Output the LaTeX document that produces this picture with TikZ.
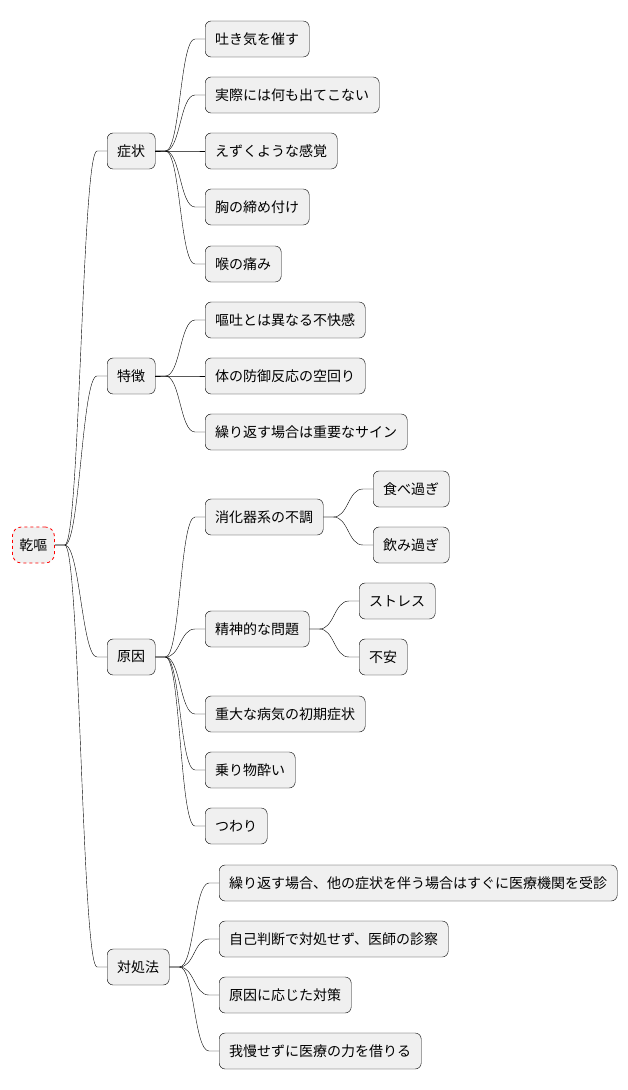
\documentclass[tikz,border=0pt]{standalone}
\usepackage{fontspec}
\setmainfont{Noto Sans CJK JP}
\begin{document}
\begin{tikzpicture}[
    x=1pt, y=-1pt,
    every node/.append style={font=\fontsize{14}{16}\selectfont},
    topic/.style={rectangle, draw=black, fill=black!6, rounded corners=6pt, minimum height=36pt, inner xsep=10pt, anchor=west},
    root/.style={topic, draw=red, dashed, thick, rounded corners=9pt, inner xsep=7pt},
    branch/.style={black, thin}
]
    \useasboundingbox (0,0) rectangle (628,1090);

    % Wurzel
    \node[root] (root) at (12,545) {乾嘔};

    % Erste Ebene
    \node[topic] (sym) at (107,151) {症状};
    \node[topic] (feat) at (107,376) {特徴};
    \node[topic] (cause) at (107,657) {原因};
    \node[topic] (cope) at (107,967) {対処法};

    % Zweite Ebene
    \node[topic] (s1) at (205,39) {吐き気を催す};
    \node[topic] (s2) at (205,95) {実際には何も出てこない};
    \node[topic] (s3) at (205,151) {えずくような感覚};
    \node[topic] (s4) at (205,207) {胸の締め付け};
    \node[topic] (s5) at (205,264) {喉の痛み};
    \node[topic] (f1) at (205,320) {嘔吐とは異なる不快感};
    \node[topic] (f2) at (205,376) {体の防御反応の空回り};
    \node[topic] (f3) at (205,432) {繰り返す場合は重要なサイン};
    \node[topic] (c1) at (205,517) {消化器系の不調};
    \node[topic] (c2) at (205,629) {精神的な問題};
    \node[topic] (c3) at (205,714) {重大な病気の初期症状};
    \node[topic] (c4) at (205,770) {乗り物酔い};
    \node[topic] (c5) at (205,826) {つわり};
    \node[topic] (k1) at (219,883) {繰り返す場合、他の症状を伴う場合はすぐに医療機関を受診};
    \node[topic] (k2) at (219,939) {自己判断で対処せず、医師の診察};
    \node[topic] (k3) at (219,995) {原因に応じた対策};
    \node[topic] (k4) at (219,1051) {我慢せずに医療の力を借りる};

    % Dritte Ebene
    \node[topic] (c11) at (373,489) {食べ過ぎ};
    \node[topic] (c12) at (373,545) {飲み過ぎ};
    \node[topic] (c21) at (359,601) {ストレス};
    \node[topic] (c22) at (359,657) {不安};

    % Verbindungen
    \foreach \p/\c in {root/sym, root/feat, root/cause, root/cope,
        sym/s1, sym/s2, sym/s3, sym/s4, sym/s5,
        feat/f1, feat/f2, feat/f3,
        cause/c1, cause/c2, cause/c3, cause/c4, cause/c5,
        cope/k1, cope/k2, cope/k3, cope/k4,
        c1/c11, c1/c12, c2/c21, c2/c22}
        \draw[branch] (\p.east) -- ++(10,0) .. controls +(15,0) and +(-15,0) .. ([xshift=-10pt]\c.west) -- (\c.west);
\end{tikzpicture}
\end{document}
